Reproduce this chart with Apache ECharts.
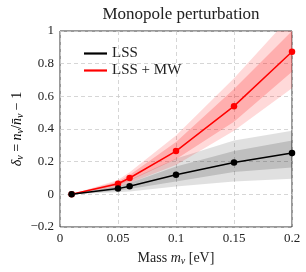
<!DOCTYPE html>
<html><head><meta charset="utf-8">
<script src="https://cdn.jsdelivr.net/npm/echarts@6/dist/echarts.min.js"></script>
<style>html,body{margin:0;padding:0;background:#fff}#c{width:306px;height:272px}</style>
</head><body><div id="c"></div>
<script>
const masses = [0.01, 0.05, 0.06, 0.1, 0.15, 0.2];
const lss = [0, 0.035, 0.05, 0.12, 0.195, 0.253];
const lssInnerLo = [0, 0.022, 0.032, 0.078, 0.137, 0.165];
const lssInnerHi = [0, 0.05, 0.07, 0.17, 0.265, 0.33];
const lssOuterLo = [0, 0.012, 0.018, 0.048, 0.078, 0.095];
const lssOuterHi = [0, 0.065, 0.09, 0.22, 0.33, 0.39];
const mw = [0, 0.065, 0.1, 0.265, 0.54, 0.873];
const mwInnerLo = [0, 0.055, 0.083, 0.215, 0.445, 0.75];
const mwInnerHi = [0, 0.078, 0.118, 0.32, 0.645, 1.0];
const mwOuterLo = [0, 0.045, 0.07, 0.18, 0.39, 0.65];
const mwOuterHi = [0, 0.088, 0.135, 0.36, 0.71, 1.1];

const serif = 'Liberation Serif';
const ink = '#222';
function band(lo, hi, color) {
  return {
    type: 'custom', clip: true, silent: true,
    data: [[0]],
    renderItem: function (params, api) {
      const pts = [];
      for (let i = 0; i < masses.length; i++) pts.push(api.coord([masses[i], hi[i]]));
      for (let i = masses.length - 1; i >= 0; i--) pts.push(api.coord([masses[i], lo[i]]));
      return { type: 'polygon', shape: { points: pts }, style: { fill: color } };
    }
  };
}
function line(name, vals, color) {
  return {
    name: name, type: 'line', data: masses.map((m, i) => [m, vals[i]]),
    symbol: 'circle', symbolSize: 6.5, color: color,
    lineStyle: { color: color, width: 1.5 }, itemStyle: { color: color },
    z: 5
  };
}
const richStyles = {
  n: { fontFamily: serif, fontSize: 14, color: ink },
  i: { fontFamily: serif, fontStyle: 'italic', fontSize: 14, color: ink },
  s: { fontFamily: serif, fontStyle: 'italic', fontSize: 10, color: ink, padding: [6, 0, 0, 0] }
};
const fmt = v => String(v).replace('-', '\u2212');
const chart = echarts.init(document.getElementById('c'));
chart.setOption({
  animation: false,
  title: {
    text: 'Monopole perturbation', left: 176, top: 1, textAlign: 'center',
    textStyle: { fontFamily: serif, fontSize: 17, fontWeight: 'normal', color: ink }
  },
  legend: {
    data: ['LSS', 'LSS + MW'], orient: 'vertical', left: 79, top: 41,
    icon: 'rect', itemWidth: 23, itemHeight: 2.2, itemGap: 2,
    textStyle: { fontFamily: serif, fontSize: 15, color: ink }
  },
  grid: { left: 60, right: 14, top: 31, bottom: 45, show: true, borderColor: '#333', borderWidth: 1 },
  xAxis: {
    type: 'value', min: 0, max: 0.2, interval: 0.05,
    name: '{n|Mass }{i|m}{s|\u03bd}{n| [eV]}', nameLocation: 'middle', nameGap: 23,
    nameTextStyle: { fontFamily: serif, fontSize: 14, color: ink, rich: richStyles },
    axisLine: { show: false }, axisTick: { show: false },
    axisLabel: { fontFamily: serif, fontSize: 13, color: ink, margin: 5, formatter: fmt },
    splitLine: { show: true, lineStyle: { type: [4, 3], color: '#ccc', width: 0.8 } }
  },
  yAxis: {
    type: 'value', min: -0.2, max: 1, interval: 0.2,
    axisLine: { show: false }, axisTick: { show: false },
    axisLabel: { fontFamily: serif, fontSize: 13, color: ink, margin: 6, formatter: fmt },
    splitLine: { show: true, lineStyle: { type: [4, 3], color: '#ccc', width: 0.8 } }
  },
  graphic: [{
    type: 'text', x: 17, y: 129, rotation: Math.PI / 2,
    style: {
      text: '{i|\u03b4}{s|\u03bd}{n| = }{i|n}{s|\u03bd}{n|/}{i|n\u0304}{s|\u03bd}{n| \u2212 1}',
      rich: richStyles, align: 'center', verticalAlign: 'middle'
    }
  }],
  series: [
    band(lssOuterLo, lssOuterHi, 'rgba(0,0,0,0.12)'),
    band(lssInnerLo, lssInnerHi, 'rgba(0,0,0,0.15)'),
    band(mwOuterLo, mwOuterHi, 'rgba(255,0,0,0.15)'),
    band(mwInnerLo, mwInnerHi, 'rgba(255,0,0,0.2)'),
    line('LSS + MW', mw, '#ff0000'),
    line('LSS', lss, '#000000')
  ]
});
</script></body></html>
